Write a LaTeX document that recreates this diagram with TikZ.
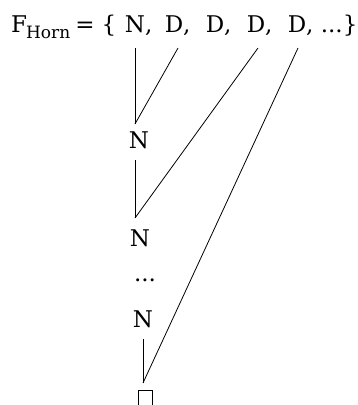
\documentclass[tikz,border=0pt]{standalone}
\usepackage{fontspec}
\setmainfont{DejaVu Serif}
\usetikzlibrary{positioning}

\begin{document}
\begin{tikzpicture}[x=1pt, y=-1pt,
    sym/.style={inner sep=0pt, anchor=base, font=\fontsize{23}{27}\selectfont},
    edge/.style={line width=0.8pt, black}
  ]
  \useasboundingbox (0,0) rectangle (358,405);

  % the formula list on top
  \node[sym, anchor=base west] (lhs) at (11,32)
    {F\kern-1pt\raisebox{-6pt}{\fontsize{17}{20}\selectfont Horn}\hspace{5pt}=\hspace{7pt}\{};
  \node[sym] (fN)  at (135,32) {N\rlap{,}};
  \node[sym] (fD1) at (174,32) {D\rlap{,}};
  \node[sym] (fD2) at (215,32) {D\rlap{,}};
  \node[sym] (fD3) at (256,32) {D\rlap{,}};
  \node[sym] (fD4) at (297,32) {D\rlap{, ...\}}};

  % the chain below
  \node[sym] (n1)  at (139,148) {N};
  \node[sym] (n2)  at (140,246) {N};
  \node[sym] (dts) at (145,281) {...};
  \node[sym] (n3)  at (143,327) {N};
  \node[draw, line width=0.8pt, inner sep=0pt, minimum width=14pt,
        minimum height=18pt, anchor=north] (box) at (145.5,390) {};

  \coordinate (a0) at (135,48);
  \coordinate (a1) at (178,48);
  \coordinate (a3) at (258,48);
  \coordinate (a4) at (298,48);
  \coordinate (j1) at (135,124);
  \coordinate (b1) at (135,160);
  \coordinate (j2) at (135,218);
  \coordinate (b3) at (143,339);
  \coordinate (j3) at (143,383);

  \draw[edge] (a0) -- (j1);
  \draw[edge] (a1) -- (j1);
  \draw[edge] (b1) -- (j2);
  \draw[edge] (a3) -- (j2);
  \draw[edge] (b3) -- (j3);
  \draw[edge] (a4) -- (j3);
\end{tikzpicture}
\end{document}
